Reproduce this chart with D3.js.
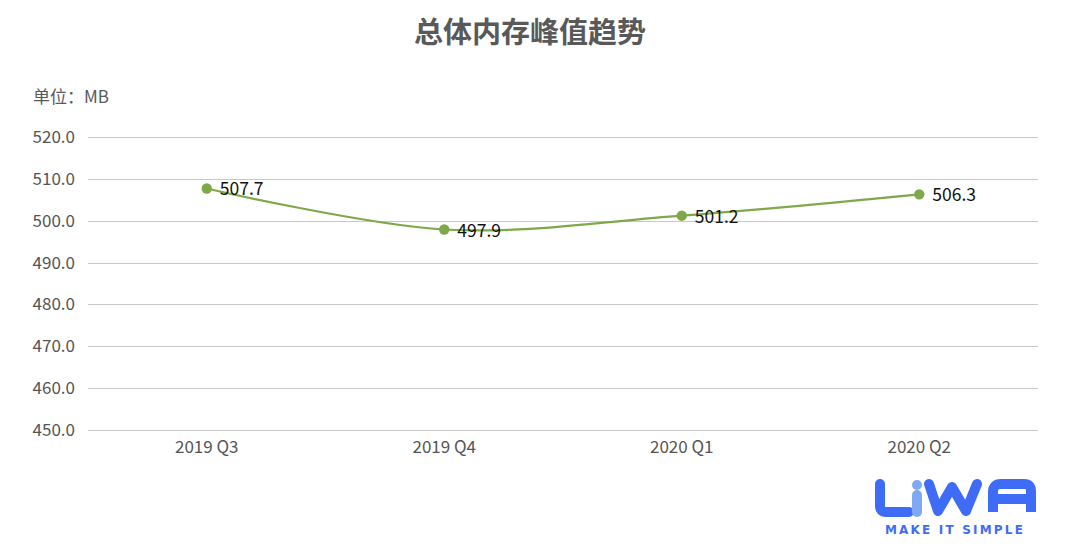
<!DOCTYPE html>
<html><head><meta charset="utf-8">
<script src="https://cdn.jsdelivr.net/npm/d3@7"></script>
<style>body{margin:0;background:#fff}svg{display:block}</style>
</head><body>
<script>
const categories = ["2019 Q3","2019 Q4","2020 Q1","2020 Q2"];
const values = [507.7, 497.9, 501.2, 506.3];
const yTicks = [450,460,470,480,490,500,510,520];
const title = "总体内存峰值趋势";
const unitLabel = "单位：MB";

const W = 1080, H = 549;
const svg = d3.select("body").append("svg").attr("width", W).attr("height", H);
const font = "'Noto Sans CJK SC','Noto Sans',sans-serif";

const x = d3.scaleBand().domain(categories).range([88, 1038]);
const y = d3.scaleLinear().domain([450, 520]).range([430, 137]);

svg.append("text").attr("x", 530).attr("y", 43).attr("text-anchor","middle")
  .attr("font-family", font).attr("font-weight","bold").attr("font-size", 29)
  .attr("fill","#595959").text(title);

svg.append("text").attr("x", 33).attr("y", 103)
  .attr("font-family", font).attr("font-size", 17).attr("fill","#595959").text(unitLabel);

// grid
svg.append("g").selectAll("line").data(yTicks).join("line")
  .attr("x1", 88).attr("x2", 1038)
  .attr("y1", d => Math.round(y(d)) + 0.5).attr("y2", d => Math.round(y(d)) + 0.5)
  .attr("stroke", "#c8c8c8").attr("stroke-width", 1);

// y axis labels
const yAxis = d3.axisLeft(y).tickValues(yTicks).tickFormat(d3.format(".1f")).tickSize(0).tickPadding(13);
const gy = svg.append("g").attr("transform","translate(88,0)").call(yAxis);
gy.select(".domain").remove();
gy.selectAll("text").attr("font-family", font).attr("font-size", 17).attr("fill","#555");

// x axis labels
const xAxis = d3.axisBottom(x).tickSize(0).tickPadding(11);
const gx = svg.append("g").attr("transform","translate(0,430)").call(xAxis);
gx.select(".domain").remove();
gx.selectAll("text").attr("font-family", font).attr("font-size", 17).attr("fill","#555");

const cx = d => x(d) + x.bandwidth()/2;
const pts = categories.map((c,i) => [cx(c), y(values[i])]);

const line = d3.line().curve(d3.curveCatmullRom.alpha(0));
svg.append("path").attr("d", line(pts)).attr("fill","none")
  .attr("stroke","#7ea84a").attr("stroke-width", 2.2);

svg.append("g").selectAll("circle").data(pts).join("circle")
  .attr("cx", d => d[0]).attr("cy", d => d[1]).attr("r", 5.2).attr("fill","#7ea84a");

svg.append("g").selectAll("text").data(values).join("text")
  .attr("x", (d,i) => pts[i][0] + 13).attr("y", (d,i) => pts[i][1] + 7)
  .attr("font-family", font).attr("font-size", 17.5).attr("fill","#111")
  .text(d => d.toFixed(1));

// logo
const logo = svg.append("g");
const blue = "#3f6cf6", light = "#7fa8f5";
const sw = 10;
logo.append("path").attr("d","M880,484 L880,506 Q880,512 886,512 L909,512")
  .attr("fill","none").attr("stroke",blue).attr("stroke-width",sw).attr("stroke-linecap","round");
logo.append("circle").attr("cx",917).attr("cy",485).attr("r",5).attr("fill",light);
logo.append("path").attr("d","M917,495 L917,512").attr("fill","none").attr("stroke",light)
  .attr("stroke-width",sw).attr("stroke-linecap","round");
logo.append("path").attr("d","M929,484 L938,511 L952,487 L966,511 L977,484")
  .attr("fill","none").attr("stroke",blue).attr("stroke-width",sw).attr("stroke-linecap","round").attr("stroke-linejoin","round");
logo.append("path").attr("d","M993,512 L993,492 Q993,484 1001,484 L1024,484 Q1031,484 1031,491 L1031,512 M993,499 L1031,499")
  .attr("fill","none").attr("stroke",blue).attr("stroke-width",sw).attr("stroke-linecap","butt");
logo.append("text").attr("x", 955).attr("y", 534).attr("text-anchor","middle")
  .attr("font-family","'DejaVu Sans',sans-serif").attr("font-weight","bold").attr("font-size",12)
  .attr("letter-spacing",2.2).attr("fill",blue).text("MAKE IT SIMPLE");
</script>
</body></html>
